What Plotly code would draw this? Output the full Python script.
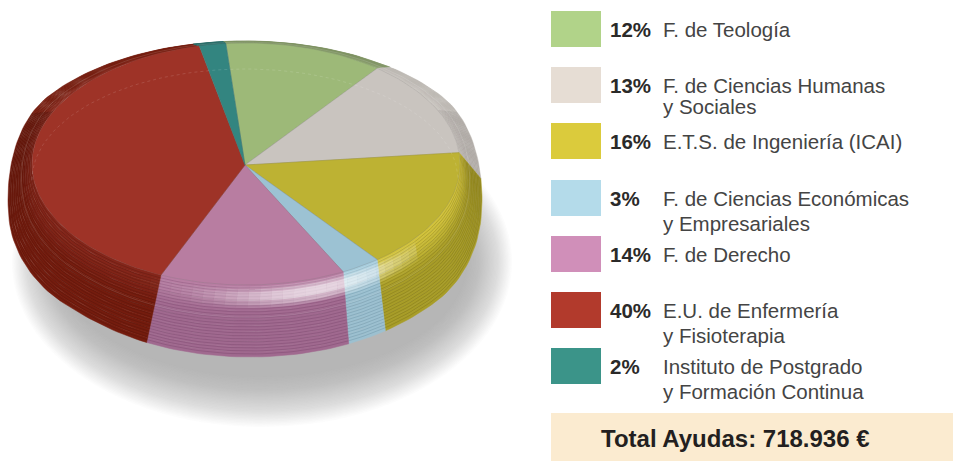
import math
import plotly.graph_objects as go

# ---------- data ----------
categories = ["F. de Teología", "F. de Ciencias Humanas y Sociales", "E.T.S. de Ingeniería (ICAI)",
              "F. de Ciencias Económicas y Empresariales", "F. de Derecho",
              "E.U. de Enfermería y Fisioterapia", "Instituto de Postgrado y Formación Continua"]
values = [12, 13, 16, 3, 14, 40, 2]
label_first = ["F. de Teología", "F. de Ciencias Humanas", "E.T.S. de Ingeniería (ICAI)",
               "F. de Ciencias Económicas", "F. de Derecho", "E.U. de Enfermería", "Instituto de Postgrado"]
label_second = ["", "y Sociales", "", "y Empresariales", "", "y Fisioterapia", "y Formación Continua"]
total_label = "Total Ayudas: 718.936 €"

# ---------- styles ----------
swatch = ["#b1d389", "#e6ddd4", "#dbcb3c", "#b4dbea", "#d08fb9", "#b23a2c", "#3b9489"]
face = ["#9db978", "#c9c4bf", "#bdb233", "#9cc2d3", "#b87da1", "#9e3327", "#338580"]
rim = ["#8fa872", "#c8c3be", "#d2c33c", "#a6cddd", "#b77da2", "#84261a", "#2f7a75"]
side = ["#7f9262", "#bdb8b3", "#a89d28", "#9cc0d0", "#a0698f", "#741c0e", "#2a6d68"]
line_dark = ["rgba(60,70,40,.25)", "rgba(120,115,110,.25)", "rgba(80,70,10,.45)", "rgba(50,90,110,.4)",
             "rgba(80,35,70,.42)", "rgba(50,10,5,.4)", "rgba(10,50,50,.3)"]
row_top = [11, 67, 123, 180, 236, 292, 348]
TXT = "Liberation Sans"
T0 = -5.4


def hex_mix(a, b, f):
    ca = [int(a[i:i + 2], 16) for i in (1, 3, 5)]
    cb = [int(b[i:i + 2], 16) for i in (1, 3, 5)]
    return "rgb(%d,%d,%d)" % tuple(round(x + (y - x) * f) for x, y in zip(ca, cb))


def smooth(x):
    x = max(0.0, min(1.0, x))
    return x * x * (3 - 2 * x)


def flat(t):
    r = math.radians(t)
    return 246 + 214 * math.sin(r), 164 - 121 * math.cos(r)


def outer(t):
    t = t + 4.5 * smooth((t - 140) / 65) * (1 - smooth((t - 240) / 60))
    r = math.radians(t)
    c = math.cos(r)
    w = smooth((0.55 - c) / 1.1)
    w2 = smooth((-c - 0.1) / 0.7)
    rx = 237 - 16 * w2
    cx = 245 + 5 * w2
    return cx + rx * math.sin(r), 166 + 66 * w - 125 * c


def blend(t, s):
    a, b = flat(t), outer(t)
    return a[0] + (b[0] - a[0]) * s, a[1] + (b[1] - a[1]) * s


def arc(t1, t2, s):
    n = max(4, int(abs(t2 - t1) / 1.5))
    return [blend(t1 + (t2 - t1) * i / n, s) for i in range(n + 1)]


def band(t1, t2, s1, s2, fill, op=1.0):
    pts = arc(t1, t2, s1) + arc(t2, t1, s2)
    pts.append(pts[0])
    fig.add_trace(go.Scatter(x=[p[0] for p in pts], y=[p[1] for p in pts], mode="lines", fill="toself",
                             fillcolor=fill, opacity=op, line=dict(width=0.5 if op == 1.0 else 0, color=fill),
                             hoverinfo="skip"))


def curve(pts, color, width, dash="solid"):
    fig.add_trace(go.Scatter(x=[p[0] for p in pts], y=[p[1] for p in pts], mode="lines",
                             line=dict(width=width, color=color, dash=dash), hoverinfo="skip"))


def lower_arc(t1, t2, s):
    """Contour arc, kept only away from the thin back edge of the rim."""
    n = max(4, int(abs(t2 - t1) / 1.5))
    xs = []
    for i in range(n + 1):
        t = t1 + (t2 - t1) * i / n
        xs.append(blend(t, s) if math.cos(math.radians(t)) < 0.45 else (None, None))
    return xs


fig = go.Figure()

# soft shadow
shapes = []
N_SH = 36
for i in range(N_SH):
    f = i / (N_SH - 1)
    rx = 250 - 45 * f
    ry = 165 - 50 * f
    shapes.append(dict(type="circle", xref="x", yref="y", layer="below", x0=262 - rx, x1=262 + rx,
                       y0=262 - ry, y1=262 + ry, fillcolor="#929c99", opacity=0.03, line=dict(width=0)))

# wedge angle edges
edges = [T0]
for v in values:
    edges.append(edges[-1] + v * 360 / sum(values))

# side bands and contour lines
N_B = 14
N_L = 24
for k in range(len(values)):
    t1, t2 = edges[k], edges[k + 1]
    for b in range(N_B):
        s1, s2 = b / N_B, (b + 1) / N_B
        band(t1, t2, s1, s2, hex_mix(rim[k], side[k], smooth(s1 * 2.2)))
    for b in range(1, N_L):
        curve(lower_arc(t1, t2, b / N_L), line_dark[k], 0.5)
    curve(arc(t1, t2, 0.45), "rgba(255,255,255,.16)", 0.8)

# bright reflection on the rim
STEP = 3
for a in range(128, 212, STEP):
    centre = a + STEP / 2
    g = math.exp(-((centre - 160) / 24) ** 2)
    for s1, s2, op in [(.02, .32, .22), (.06, .28, .32), (.10, .22, .42)]:
        band(a, a + STEP, s1, s2, "#ffffff", op * g)

# faces
for k in range(len(values)):
    pts = [(245, 165)] + arc(edges[k], edges[k + 1], 0) + [(245, 165)]
    fig.add_trace(go.Scatter(x=[p[0] for p in pts], y=[p[1] for p in pts], mode="lines", fill="toself",
                             fillcolor=face[k], line=dict(width=0.5, color=hex_mix(face[k], "#555555", .3)),
                             name=categories[k], hoverinfo="name"))

# faint lines on the top
ghost = []
for i in range(0, 181, 2):
    r = math.radians(i - 90)
    ghost.append((245 + 213 * math.sin(r), 180 - 111 * math.cos(r)))
curve(ghost, "rgba(255,255,255,.18)", 0.7, "dot")

layout_ann = []
for k in range(len(values)):
    y0 = row_top[k]
    shapes.append(dict(type="rect", xref="x", yref="y", x0=551, x1=601, y0=y0, y1=y0 + 36,
                       fillcolor=swatch[k], line=dict(width=0)))
    layout_ann.append(dict(x=608, y=y0 + 18, text="<b>%d%%</b>" % values[k], xanchor="left", yanchor="middle",
                           showarrow=False, xref="x", yref="y", font=dict(family=TXT, size=20.5, color="#2b2a29")))
    layout_ann.append(dict(x=661, y=y0 + 18, text=label_first[k], xanchor="left", yanchor="middle",
                           showarrow=False, xref="x", yref="y", font=dict(family=TXT, size=20.5, color="#444444")))
    if label_second[k]:
        gap = 21 if k == 1 else 25
        layout_ann.append(dict(x=661, y=y0 + 18 + gap, text=label_second[k], xanchor="left", yanchor="middle",
                               showarrow=False, xref="x", yref="y", font=dict(family=TXT, size=20.5, color="#444444")))

shapes.append(dict(type="rect", xref="x", yref="y", x0=551, x1=953, y0=413, y1=461,
                   fillcolor="#fbebd0", line=dict(width=0)))
layout_ann.append(dict(x=599, y=438, text="<b>%s</b>" % total_label, xanchor="left", yanchor="middle",
                       showarrow=False, xref="x", yref="y", font=dict(family=TXT, size=24, color="#231f20")))

fig.update_layout(width=953, height=461, margin=dict(l=0, r=0, t=0, b=0), showlegend=False,
                  paper_bgcolor="white", plot_bgcolor="white", shapes=shapes, annotations=layout_ann,
                  xaxis=dict(range=[0, 953], visible=False, fixedrange=True),
                  yaxis=dict(range=[461, 0], visible=False, fixedrange=True))
fig.write_html("out.html", config=dict(displayModeBar=False),
               post_script="document.body.style.margin='0';document.documentElement.style.overflow='hidden';")
